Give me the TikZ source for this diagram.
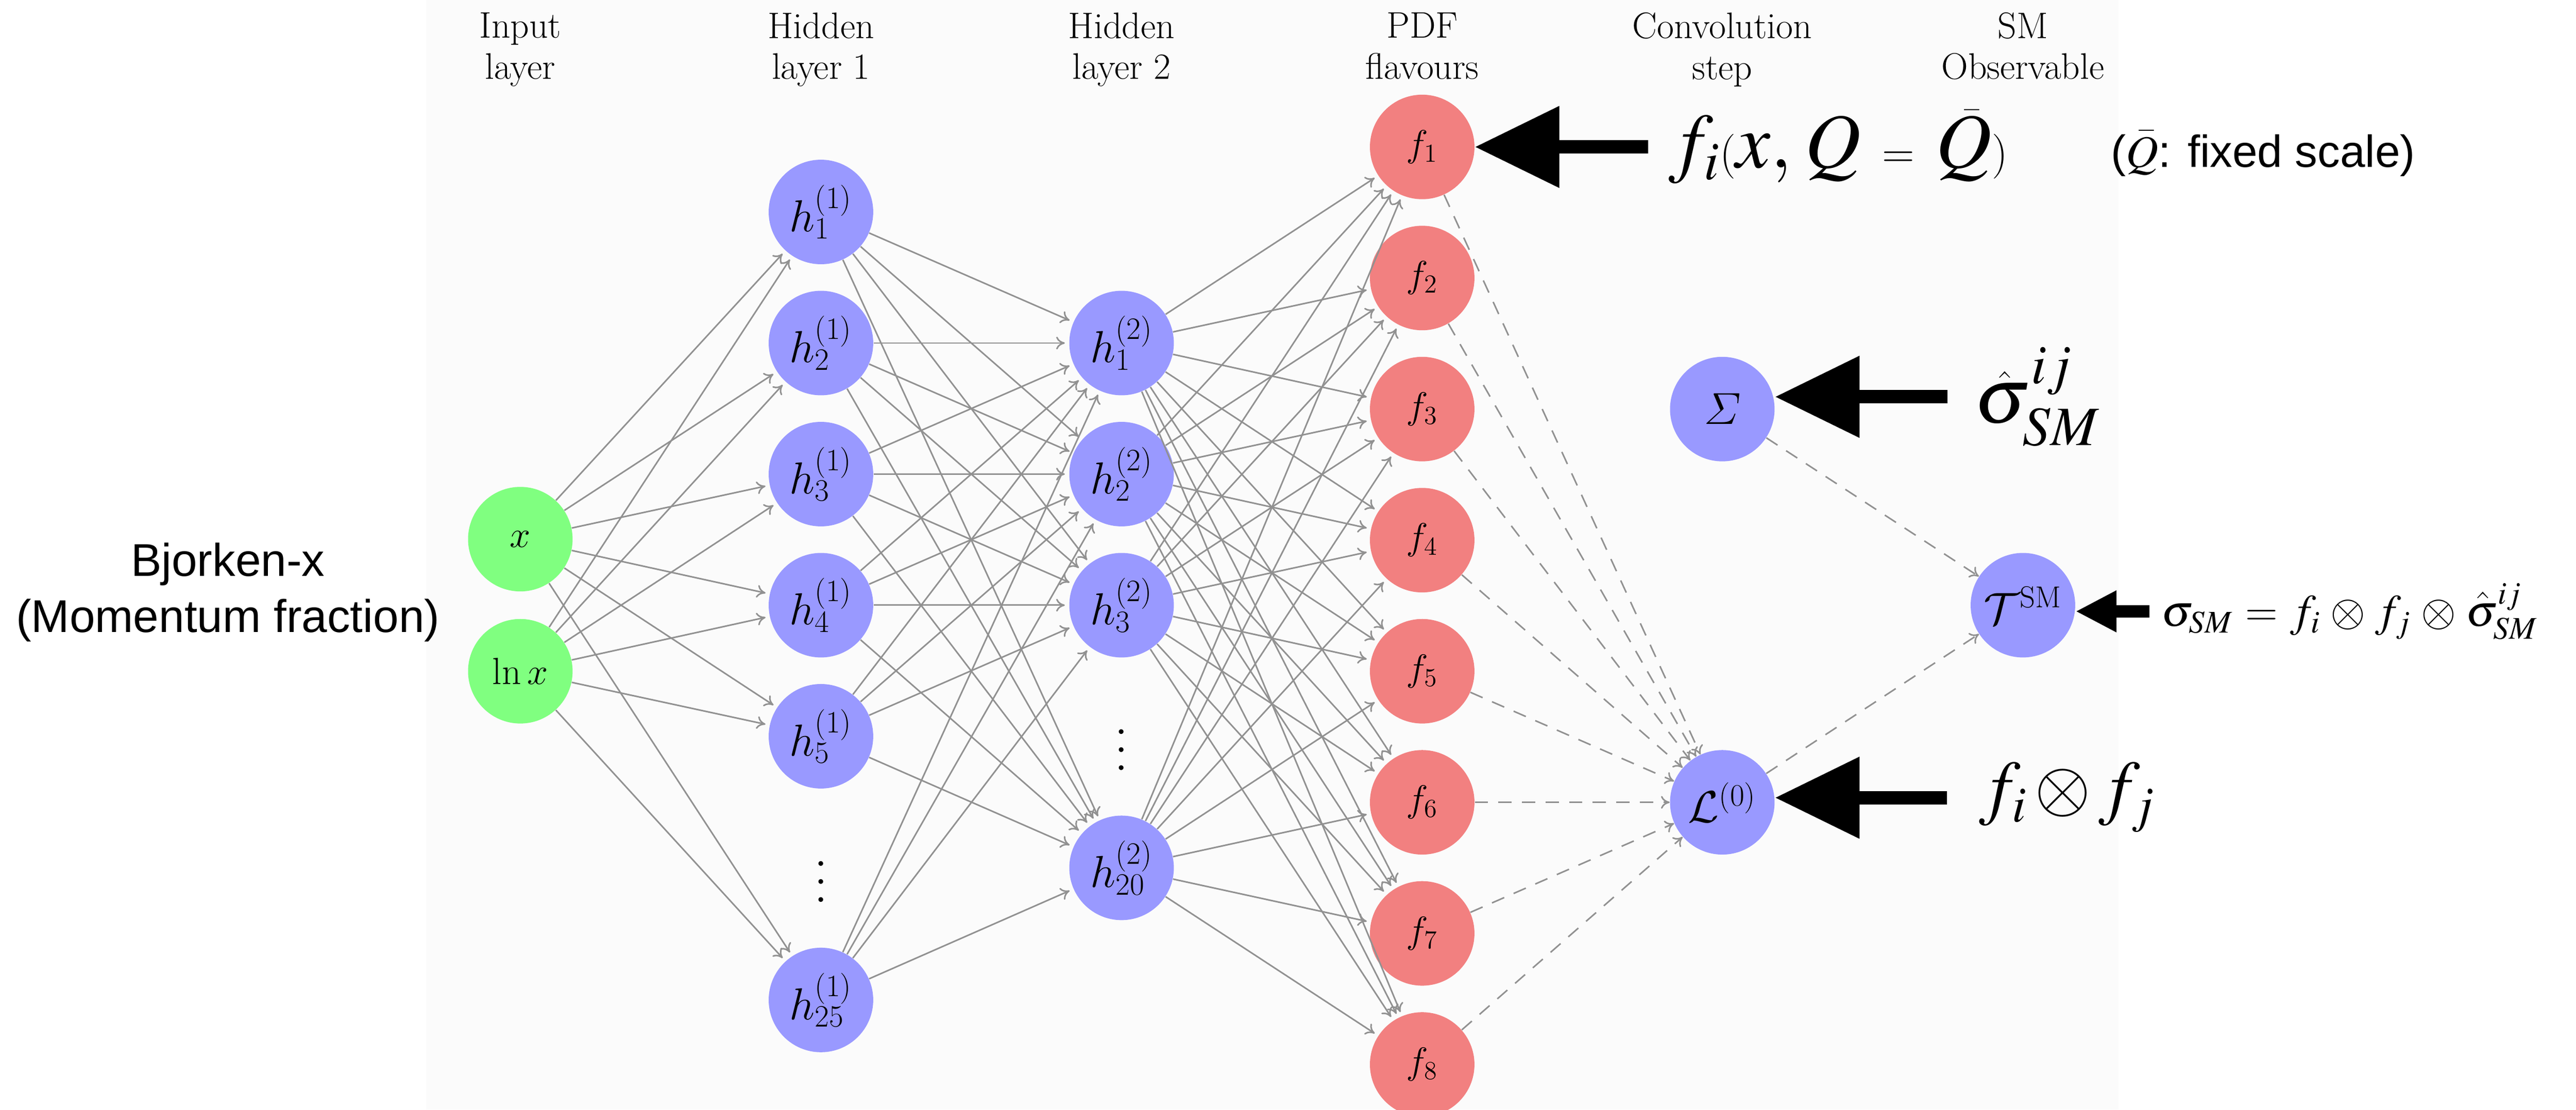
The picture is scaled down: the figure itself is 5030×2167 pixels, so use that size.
\documentclass[tikz,border=0pt]{standalone}
\usepackage{fontspec}
\usetikzlibrary{arrows.meta}
\newfontfamily\sansf{Liberation Sans}
\definecolor{ingreen}{RGB}{128,255,128}
\definecolor{hidblue}{RGB}{153,153,255}
\definecolor{pdfred}{RGB}{242,128,128}
\definecolor{wiregrey}{RGB}{145,145,145}
\definecolor{tint}{RGB}{251,251,251}
% Times letters for the slide annotations
\DeclareMathVersion{times}
\SetSymbolFont{operators}{times}{OT1}{ztmcm}{m}{n}
\SetSymbolFont{letters}{times}{OML}{ztmcm}{m}{it}
\SetSymbolFont{symbols}{times}{OMS}{ztmcm}{m}{n}
\SetSymbolFont{largesymbols}{times}{OMX}{ztmcm}{m}{n}

\begin{document}
\begin{tikzpicture}[x=0.01cm,y=-0.01cm]
    \tikzset{%
      neuron/.style={circle, inner sep=0pt, minimum size=2.04cm,
        font=\fontsize{21}{25}\selectfont},
      inp/.style={neuron, fill=ingreen},
      hid/.style={neuron, fill=hidblue, font=\fontsize{24}{28}\selectfont},
      pdf/.style={neuron, fill=pdfred},
      vdot/.style={inner sep=0pt, scale=2.5},
      wire/.style={draw=wiregrey, line width=0.03cm, shorten >=0.08cm,
        -{To[length=0.17cm,width=0.25cm]}},
      dwire/.style={wire, shorten >=0pt, dash pattern=on 0.26cm off 0.2cm},
      head/.style={align=center, inner sep=0pt,
        font=\fontsize{20.5}{22.7}\selectfont},
      side/.style={align=center, inner sep=0pt,
        font=\sansf\fontsize{25.5}{31.2}\selectfont},
      tnote/.style={anchor=west, inner sep=0pt},
      bigarrow/.style={line width=0.26cm,
        -{Triangle[length=1.65cm,width=1.53cm]}},
      smallarrow/.style={line width=0.24cm,
        -{Triangle[length=0.8cm,width=0.76cm]}},
    }
    \useasboundingbox (0,0) rectangle (5030,2167);
    \fill[tint] (832,0) rectangle (4137,2167);

    % column titles
    \node[head] (H0) at (1016,97) {Input\\layer};
    \node[head] (H1) at (1603,97) {Hidden\\layer 1};
    \node[head] (H2) at (2190,97) {Hidden\\layer 2};
    \node[head] (H3) at (2777,90) {PDF\\flavours};
    \node[head] (H4) at (3363,97) {Convolution\\step};
    \node[head] (H5) at (3950,90) {SM\\Observable};

    \node[side] (BX) at (445,1157) {Bjorken-x\\(Momentum fraction)};

    % input layer
    \node[inp] (X) at (1016,1053) {$x$};
    \node[inp] (LX) at (1016,1311) {$\ln x$};

    % hidden layer 1
    \node[hid] (A1) at (1603,414) {$h^{(1)}_1$};
    \node[hid] (A2) at (1603,670) {$h^{(1)}_2$};
    \node[hid] (A3) at (1603,926) {$h^{(1)}_3$};
    \node[hid] (A4) at (1603,1182) {$h^{(1)}_4$};
    \node[hid] (A5) at (1603,1438) {$h^{(1)}_5$};
    \node[vdot] (A0) at (1603,1696) {$\vdots$};
    \node[hid] (A25) at (1603,1953) {$h^{(1)}_{25}$};

    % hidden layer 2
    \node[hid] (B1) at (2190,670) {$h^{(2)}_1$};
    \node[hid] (B2) at (2190,926) {$h^{(2)}_2$};
    \node[hid] (B3) at (2190,1182) {$h^{(2)}_3$};
    \node[vdot] (B0) at (2190,1438) {$\vdots$};
    \node[hid] (B20) at (2190,1695) {$h^{(2)}_{20}$};

    % PDF flavours
    \node[pdf] (F1) at (2777,287) {$f_1$};
    \node[pdf] (F2) at (2777,543) {$f_2$};
    \node[pdf] (F3) at (2777,799) {$f_3$};
    \node[pdf] (F4) at (2777,1055) {$f_4$};
    \node[pdf] (F5) at (2777,1311) {$f_5$};
    \node[pdf] (F6) at (2777,1567) {$f_6$};
    \node[pdf] (F7) at (2777,1823) {$f_7$};
    \node[pdf] (F8) at (2777,2079) {$f_8$};

    % convolution and observable
    \node[hid] (S) at (3363,799) {$\mathnormal{\Sigma}$};
    \node[hid] (L) at (3363,1567) {$\mathcal{L}^{(0)}$};
    \node[hid] (T) at (3950,1182) {$\mathcal{T}^{\mathrm{SM}}$};

    \foreach \a in {X,LX}
      \foreach \b in {A1,A2,A3,A4,A5,A25}
        \draw[wire] (\a) -- (\b);
    \foreach \a in {A1,A2,A3,A4,A5,A25}
      \foreach \b in {B1,B2,B3,B20}
        \draw[wire] (\a) -- (\b);
    \foreach \a in {B1,B2,B3,B20}
      \foreach \b in {1,...,8}
        \draw[wire] (\a) -- (F\b);
    \foreach \b in {1,...,8}
      \draw[dwire] (F\b) -- (L);
    \draw[dwire] (S) -- (T);
    \draw[dwire] (L) -- (T);

    % slide notes
    \node[tnote, font=\fontsize{43}{48}\selectfont\mathversion{times}]
      (FQ) at (3258,287) {$f_i(x, Q = \bar{Q})$};
    \node[tnote, font=\fontsize{25}{30}\selectfont\mathversion{times}]
      (FS) at (4121,300) {{\sansf(}$\bar{Q}${\sansf: fixed scale)}};
    \node[tnote, font=\fontsize{44}{50}\selectfont\mathversion{times}]
      (SH) at (3855,775) {$\hat{\sigma}^{ij}_{SM}$};
    \node[tnote, font=\fontsize{40}{46}\selectfont\mathversion{times}]
      (FF) at (3864,1558) {$\medmuskip=2mu f_i\otimes f_j$};
    \node[tnote, font=\fontsize{25}{30}\selectfont\mathversion{times}]
      (SF) at (4220,1194)
      {$\sigma_{SM} = f_i\otimes f_j\otimes\hat{\sigma}^{ij}_{SM}$};

    \draw[bigarrow, shorten <=0.4cm] (FQ.west) -- (FQ.west -| F1.east);
    \draw[bigarrow, shorten <=0.52cm] (SH.west) -- (SH.west -| S.east);
    \draw[bigarrow, shorten <=0.62cm] (FF.west) -- (FF.west -| L.east);
    \draw[smallarrow, shorten <=0.23cm] (SF.west) -- (SF.west -| T.east);
\end{tikzpicture}
\end{document}
